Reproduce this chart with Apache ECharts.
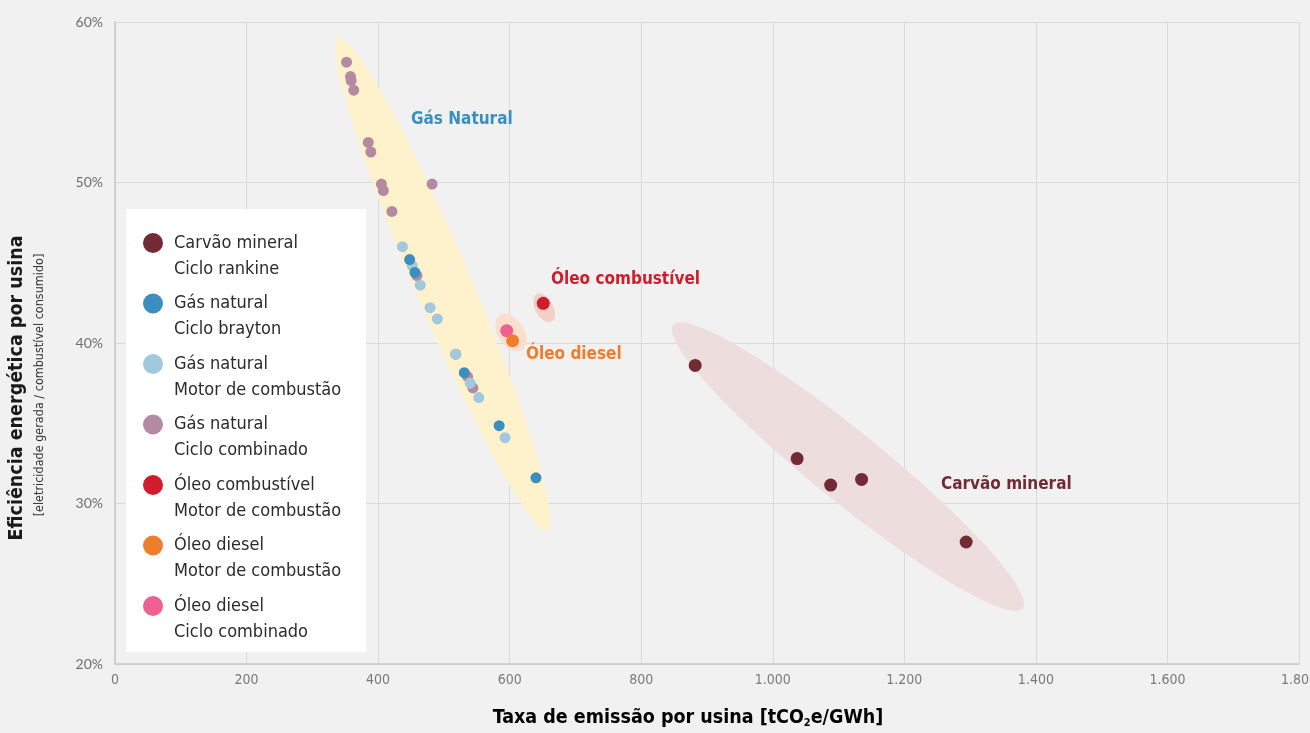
<!DOCTYPE html>
<html>
<head>
<meta charset="utf-8">
<script src="https://cdn.jsdelivr.net/npm/echarts@6/dist/echarts.min.js"></script>
<style>
  html, body { margin: 0; padding: 0; background: #f1f1f1; }
  #chart { width: 1310px; height: 733px; }
</style>
</head>
<body>
<div id="chart"></div>
<script>
// Emission rate [tCO2e/GWh] vs. plant efficiency [%]
const coalRankine     = [[882, 38.6], [1037, 32.8], [1088, 31.15], [1135, 31.5], [1294, 27.6]];
const gasBrayton      = [[448, 45.2], [456, 44.4], [531, 38.15], [584, 34.85], [640, 31.6]];
const gasEngine       = [[437, 46.0], [452, 44.8], [464, 43.6], [479, 42.2], [490, 41.5], [518, 39.3],
                         [540, 37.5], [553, 36.6], [593, 34.1]];
const gasCombined     = [[352, 57.5], [358, 56.6], [359, 56.35], [363, 55.75], [385, 52.5], [389, 51.9],
                         [405, 49.9], [408, 49.5], [482, 49.9], [421, 48.2], [459, 44.2], [518, 39.3],
                         [536, 37.9], [544, 37.2]];
const fuelOilEngine   = [[651, 42.47]];
const dieselEngine    = [[604.5, 40.14]];
const dieselCombined  = [[595.5, 40.77]];

// Grouping zones: major-axis endpoints [x1, y1, x2, y2]
const zoneAxes = [
  [339.5, 58.98, 657.2, 28.35],   // natural gas
  [848.7, 41.12, 1380, 23.47],    // coal
  [641.1, 43.05, 663.9, 41.33],   // fuel oil
  [585.3, 41.74, 618.3, 39.56]    // diesel
];
// Group captions: [text, x, y]
const groupNotes = [
  ['Gás Natural', 450, 53.9],
  ['Óleo combustível', 662.8, 43.93],
  ['Óleo diesel', 624.8, 39.3],
  ['Carvão mineral', 1255.7, 31.2]
];

const legendNames = ['Carvão mineral\nCiclo rankine', 'Gás natural\nCiclo brayton', 'Gás natural\nMotor de combustão',
                     'Gás natural\nCiclo combinado', 'Óleo combustível\nMotor de combustão',
                     'Óleo diesel\nMotor de combustão', 'Óleo diesel\nCiclo combinado'];

const xTicks = { min: 0, max: 1800, step: 200 };
const yTicks = { min: 20, max: 60, step: 10 };

const NARROW = "'Liberation Sans Narrow', 'DejaVu Sans Condensed', 'Roboto', sans-serif";
const zoneFill = ['#fdf2cc', '#eedddd', '#f3d1c9', '#f9dfcc'];
const zoneHalfWidth = [28, 35, 9, 13];
const noteColor = ['#3a8fc0', '#d01c2b', '#ef7d2e', '#722a35'];

const chart = echarts.init(document.getElementById('chart'), null, { renderer: 'canvas' });

function dot(name, data, color, size, z) {
  return {
    name, type: 'scatter', data, symbolSize: size, z: z,
    itemStyle: { color: color, opacity: 1 },
    emphasis: { disabled: true }
  };
}

const option = {
  backgroundColor: '#f1f1f1',
  animation: false,
  grid: { left: 115, right: 11, top: 22, bottom: 69, outerBoundsMode: 'none', containLabel: false },
  xAxis: {
    type: 'value', min: xTicks.min, max: xTicks.max, interval: xTicks.step,
    axisLine: { show: true, lineStyle: { color: '#c8c8c8', width: 1.5 } },
    axisTick: { show: false },
    splitLine: { show: true, lineStyle: { color: '#dadada', width: 1 } },
    axisLabel: {
      margin: 9, color: '#7a7a7a', fontFamily: NARROW, fontSize: 14,
      formatter: v => v >= 1000 ? Math.floor(v / 1000) + '.' + String(v % 1000).padStart(3, '0') : String(v)
    }
  },
  yAxis: {
    type: 'value', min: yTicks.min, max: yTicks.max, interval: yTicks.step,
    axisLine: { show: true, lineStyle: { color: '#c8c8c8', width: 1.5 } },
    axisTick: { show: false },
    splitLine: { show: true, lineStyle: { color: '#dadada', width: 1 } },
    axisLabel: { margin: 12, color: '#6e6e6e', fontFamily: 'Lato, sans-serif', fontSize: 14, formatter: v => v + '%' }
  },
  legend: {
    left: 143, top: 204, orient: 'vertical', padding: 0,
    itemWidth: 20, itemHeight: 20, itemGap: -17.5, icon: 'circle',
    data: legendNames,
    // leading blank line keeps the first line of each entry level with its dot
    formatter: name => '\n' + name,
    textStyle: { fontFamily: NARROW, fontSize: 18, color: '#2b2b2b', lineHeight: 26, padding: [0, 0, 0, 6] },
    selectedMode: false
  },
  graphic: [
    { type: 'rect', left: 126, top: 209, shape: { width: 240, height: 443 }, style: { fill: '#ffffff' }, z: 1, silent: true },
    { type: 'text', x: 17, y: 388, rotation: Math.PI / 2, z: 10, silent: true,
      style: { text: 'Eficiência energética por usina', fill: '#1a1a1a', font: "bold 19.5px " + NARROW,
               align: 'center', verticalAlign: 'middle' } },
    { type: 'text', x: 40, y: 385, rotation: Math.PI / 2, z: 10, silent: true,
      style: { text: '[eletricidade gerada / combustível consumido]', fill: '#333', font: "12.5px " + NARROW,
               align: 'center', verticalAlign: 'middle' } },
    { type: 'text', x: 688, y: 718, z: 10, silent: true,
      style: {
        text: '{t|Taxa de emissão por usina [tCO}{s|2}{t|e/GWh]}',
        align: 'center', verticalAlign: 'middle',
        rich: {
          t: { fontFamily: NARROW, fontWeight: 'bold', fontSize: 19.5, color: '#1a1a1a' },
          s: { fontFamily: NARROW, fontWeight: 'bold', fontSize: 11, color: '#1a1a1a', padding: [10, 0, 0, 0] }
        }
      } }
  ],
  series: [
    {
      type: 'custom', name: 'zones', silent: true, z: 1,
      data: zoneAxes,
      renderItem: function (params, api) {
        const p1 = api.coord([api.value(0), api.value(1)]);
        const p2 = api.coord([api.value(2), api.value(3)]);
        const cx = (p1[0] + p2[0]) / 2, cy = (p1[1] + p2[1]) / 2;
        const a = Math.hypot(p2[0] - p1[0], p2[1] - p1[1]) / 2;
        const b = zoneHalfWidth[params.dataIndex];
        const ang = Math.atan2(p2[1] - p1[1], p2[0] - p1[0]);
        const pts = [];
        for (let i = 0; i < 120; i++) {
          const t = i / 120 * Math.PI * 2;
          const ex = a * Math.cos(t), ey = b * Math.sin(t);
          pts.push([cx + ex * Math.cos(ang) - ey * Math.sin(ang), cy + ex * Math.sin(ang) + ey * Math.cos(ang)]);
        }
        return { type: 'polygon', shape: { points: pts }, style: { fill: zoneFill[params.dataIndex] } };
      }
    },
    dot(legendNames[0], coalRankine, '#722a35', 13, 3),
    dot(legendNames[3], gasCombined, '#b38aa0', 11, 3),
    dot(legendNames[2], gasEngine, '#a2c8dd', 11, 4),
    dot(legendNames[1], gasBrayton, '#3a8fc0', 11, 5),
    dot(legendNames[4], fuelOilEngine, '#d01c2b', 13, 5),
    dot(legendNames[6], dieselCombined, '#ef5f8f', 13, 5),
    dot(legendNames[5], dieselEngine, '#ef7d2e', 13, 6),
    {
      type: 'scatter', name: 'notes', silent: true, z: 6, symbolSize: 0,
      itemStyle: { opacity: 1 },
      data: groupNotes.map((n, i) => ({
        value: [n[1], n[2]], name: n[0],
        label: { color: noteColor[i] }
      })),
      label: {
        show: true, position: 'right', distance: 0, formatter: p => p.name,
        fontFamily: NARROW, fontWeight: 'bold', fontSize: 17, opacity: 1
      }
    }
  ]
};
chart.setOption(option);
</script>
</body>
</html>
